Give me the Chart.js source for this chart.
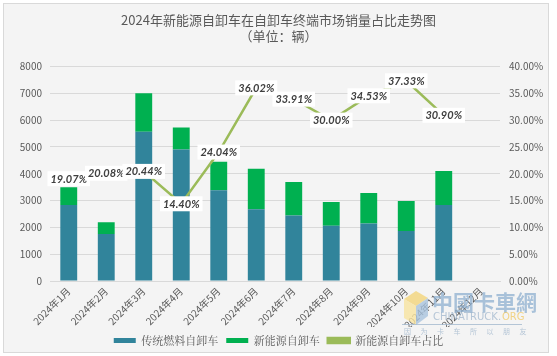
<!DOCTYPE html>
<html>
<head>
<meta charset="utf-8">
<script src="https://cdn.jsdelivr.net/npm/chart.js@4/dist/chart.umd.min.js"></script>
<style>
  html, body { margin: 0; padding: 0; background: #ffffff; }
  #wrap { width: 557px; height: 356px; position: relative; }
</style>
</head>
<body>
<div id="wrap"><canvas id="c" width="557" height="356"></canvas></div>
<script>
const categories = ['2024年1月','2024年2月','2024年3月','2024年4月','2024年5月','2024年6月','2024年7月','2024年8月','2024年9月','2024年10月','2024年11月','2024年12月'];
const traditionalSales = [2833, 1750, 5569, 4901, 3380, 2677, 2443, 2061, 2149, 1868, 2832, null];
const newEnergySales   = [667, 440, 1431, 825, 1070, 1507, 1253, 883, 1133, 1113, 1266, null];
const newEnergyShare   = [19.07, 20.08, 20.44, 14.40, 24.04, 36.02, 33.91, 30.00, 34.53, 37.33, 30.90, null];
const seriesNames = ['传统燃料自卸车', '新能源自卸车', '新能源自卸车占比'];
const titleLines = ['2024年新能源自卸车在自卸车终端市场销量占比走势图', '（单位：辆）'];
const leftTicks = [0, 1000, 2000, 3000, 4000, 5000, 6000, 7000, 8000];
const rightTicks = [0, 5, 10, 15, 20, 25, 30, 35, 40];

const CJK = '"Noto Sans CJK SC", "Noto Sans", sans-serif';
const TXT = '#595959';

const bgPlugin = {
  id: 'bg',
  beforeDraw(chart) {
    const ctx = chart.ctx;
    ctx.save();
    ctx.fillStyle = '#ffffff';
    ctx.fillRect(0, 0, chart.width, chart.height);
    ctx.fillStyle = '#f4f4f4';
    ctx.fillRect(3.5, 3.5, 545, 349);
    ctx.strokeStyle = '#d9d9d9';
    ctx.lineWidth = 1;
    ctx.strokeRect(3.5, 3.5, 545, 349);
    ctx.restore();
  }
};

const lineLabelPlugin = {
  id: 'lineLabels',
  afterDatasetsDraw(chart) {
    const ctx = chart.ctx;
    const meta = chart.getDatasetMeta(2);
    ctx.save();
    ctx.font = 'italic bold 11px Lato, "Open Sans", sans-serif';
    ctx.textAlign = 'center';
    ctx.textBaseline = 'middle';
    meta.data.forEach((pt, i) => {
      const v = newEnergyShare[i];
      if (v === null || v === undefined) return;
      const label = v.toFixed(2) + '%';
      const w = ctx.measureText(label).width + 6;
      const h = 15;
      const x = pt.x, y = pt.y;
      ctx.fillStyle = '#ffffff';
      ctx.fillRect(x - w / 2, y - h / 2, w, h);
      ctx.fillStyle = '#404040';
      ctx.fillText(label, x, y + 0.5);
    });
    ctx.restore();
  }
};

const legendMarkerPlugin = {
  id: 'legendMarker',
  afterDraw(chart) {
    const lg = chart.legend;
    if (!lg || !lg.legendHitBoxes || lg.legendHitBoxes.length < 3) return;
    const hb = lg.legendHitBoxes[2];
    const bw = lg.options.labels.boxWidth;
    const ctx = chart.ctx;
    ctx.save();
    ctx.fillStyle = '#9bbb59';
    ctx.beginPath();
    ctx.arc(hb.left + bw / 2, hb.top + hb.height / 2, 3, 0, Math.PI * 2);
    ctx.fill();
    ctx.restore();
  }
};

const watermarkPlugin = {
  id: 'watermark',
  afterDraw(chart) {
    const ctx = chart.ctx;
    ctx.save();
    ctx.globalAlpha = 0.8;
    ctx.fillStyle = '#f3d57a';
    ctx.beginPath();
    ctx.moveTo(404, 299); ctx.lineTo(416, 291); ctx.lineTo(428, 298); ctx.lineTo(416, 306); ctx.closePath(); ctx.fill();
    ctx.fillStyle = '#a9c3dd';
    ctx.beginPath();
    ctx.moveTo(416, 306); ctx.lineTo(428, 298); ctx.lineTo(428, 316); ctx.lineTo(416, 325); ctx.closePath(); ctx.fill();
    ctx.fillStyle = '#f7e3a0';
    ctx.beginPath();
    ctx.moveTo(404, 299); ctx.lineTo(416, 306); ctx.lineTo(416, 325); ctx.lineTo(404, 318); ctx.closePath(); ctx.fill();
    ctx.globalAlpha = 0.75;
    ctx.fillStyle = '#8fb0d0';
    ctx.font = 'bold 21px "Noto Sans CJK TC", sans-serif';
    ctx.textAlign = 'left';
    ctx.textBaseline = 'middle';
    ctx.fillText('中國卡車網', 432, 302);
    ctx.font = '10px "DejaVu Sans", sans-serif';
    ctx.fillStyle = '#9fb6cc';
    ctx.fillText('CHINATRUCK.', 433, 317);
    ctx.fillStyle = '#f0c860';
    ctx.fillText('ORG', 502, 317);
    ctx.strokeStyle = '#9fb6cc';
    ctx.lineWidth = 1;
    ctx.beginPath(); ctx.moveTo(402, 324.5); ctx.lineTo(522, 324.5); ctx.stroke();
    ctx.font = '7px "Noto Sans CJK SC", sans-serif';
    ctx.fillStyle = '#9fb6cc';
    const chars = ['因','为','卡','车','所','以','朋','友'];
    chars.forEach((c, i) => ctx.fillText(c, 404 + i * 16.5, 331));
    ctx.restore();
  }
};

new Chart(document.getElementById('c'), {
  data: {
    labels: categories,
    datasets: [
      {
        type: 'bar', label: seriesNames[0], data: traditionalSales,
        backgroundColor: '#31849b', yAxisID: 'y', stack: 's', order: 2,
        categoryPercentage: 1.0, barPercentage: 0.45
      },
      {
        type: 'bar', label: seriesNames[1], data: newEnergySales,
        backgroundColor: '#00b050', yAxisID: 'y', stack: 's', order: 2,
        categoryPercentage: 1.0, barPercentage: 0.45
      },
      {
        type: 'line', label: seriesNames[2], data: newEnergyShare,
        borderColor: '#9bbb59', backgroundColor: '#9bbb59', borderWidth: 2.5,
        pointRadius: 3, pointBackgroundColor: '#9bbb59', pointBorderWidth: 0,
        yAxisID: 'y1', order: 0, tension: 0, spanGaps: false
      }
    ]
  },
  options: {
    responsive: false,
    animation: false,
    devicePixelRatio: 1,
    layout: { padding: { top: 8, left: 0, right: 0, bottom: 0 } },
    plugins: {
      title: {
        display: true, text: titleLines, color: TXT,
        font: { family: CJK, size: 13, weight: 'normal', lineHeight: 1.25 },
        padding: { top: 4, bottom: 22 }
      },
      legend: {
        display: true, position: 'bottom',
        labels: {
          color: TXT, boxWidth: 22, boxHeight: 5,
          font: { family: '"Noto Serif CJK SC", "Noto Sans CJK SC", serif', size: 11 },
          padding: 8,
          sort: (a, b) => a.datasetIndex - b.datasetIndex
        }
      },
      tooltip: { enabled: false }
    },
    scales: {
      x: {
        stacked: true,
        grid: { display: false, drawTicks: false },
        border: { display: true, color: '#d9d9d9' },
        ticks: {
          color: TXT, font: { family: CJK, size: 10 },
          minRotation: 45, maxRotation: 45, autoSkip: false, padding: 4
        },
        afterFit(scale) { scale.height = 46; }
      },
      y: {
        type: 'linear', position: 'left', stacked: true,
        min: 0, max: 8000,
        afterBuildTicks(scale) { scale.ticks = leftTicks.map(v => ({ value: v })); },
        grid: { color: '#d9d9d9', drawTicks: false },
        border: { display: false },
        ticks: { color: TXT, font: { family: CJK, size: 10 }, padding: 8, callback: v => String(v) },
        afterFit(scale) { scale.width = 50; }
      },
      y1: {
        type: 'linear', position: 'right', stacked: false,
        min: 0, max: 40,
        afterBuildTicks(scale) { scale.ticks = rightTicks.map(v => ({ value: v })); },
        grid: { display: false, drawTicks: false },
        border: { display: false },
        ticks: {
          color: TXT, font: { family: CJK, size: 10 }, padding: 9,
          callback: v => v.toFixed(2) + '%'
        },
        afterFit(scale) { scale.width = 57; }
      }
    }
  },
  plugins: [bgPlugin, lineLabelPlugin, legendMarkerPlugin, watermarkPlugin]
});
</script>
</body>
</html>
